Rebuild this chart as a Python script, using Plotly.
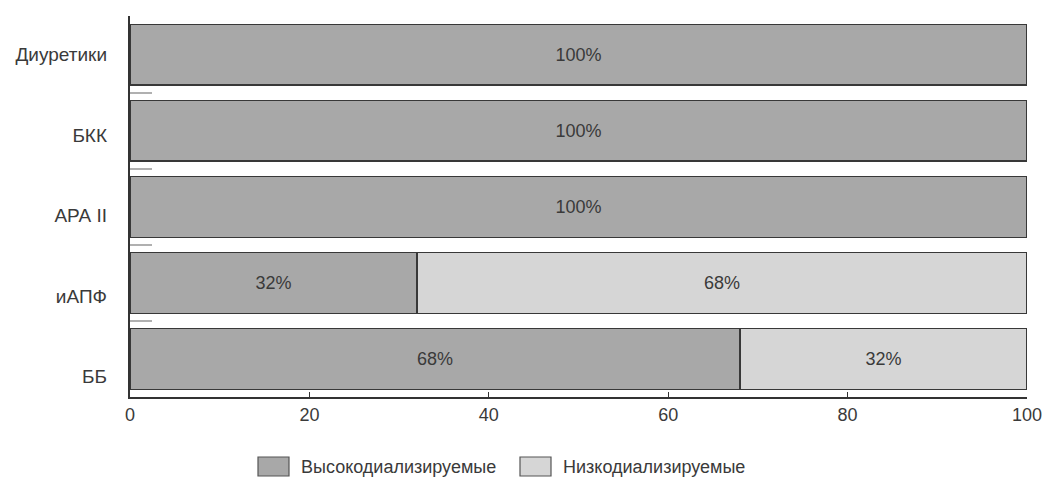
import plotly.graph_objects as go

# Drug classes (bottom to top) and share of high/low dialyzable agents, %
categories = ["ББ", "иАПФ", "АРА II", "БКК", "Диуретики"]
high_dialyzable = [68, 32, 100, 100, 100]
low_dialyzable = [32, 68, 0, 0, 0]
series_names = ["Высокодиализируемые", "Низкодиализируемые"]
x_ticks = [0, 20, 40, 60, 80, 100]

FONT = "Liberation Sans, Arial, sans-serif"
DARK = "#a8a8a8"
LIGHT = "#d6d6d6"
EDGE = "#383838"
TEXT = "#3a3a3a"

W, H = 1046, 478
M = dict(l=130, r=19, t=16, b=81)
PLOT_W = W - M["l"] - M["r"]
PLOT_H = H - M["t"] - M["b"]


def px_x(px):
    """Pixel column -> paper x."""
    return (px - M["l"]) / PLOT_W


def px_y(py):
    """Pixel row -> paper y."""
    return (H - M["b"] - py) / PLOT_H


def pct_labels(values):
    return [f"{v}%" if v > 0 else "" for v in values]


colors = [DARK, LIGHT]
fig = go.Figure()
for name, vals, color in zip(series_names, [high_dialyzable, low_dialyzable], colors):
    fig.add_trace(go.Bar(
        name=name,
        y=categories,
        x=vals,
        orientation="h",
        marker=dict(color=color, line=dict(color=EDGE, width=1.6)),
        text=pct_labels(vals),
        textposition="inside",
        insidetextanchor="middle",
        textfont=dict(family=FONT, size=18, color=TEXT),
        showlegend=False,
    ))

# Invisible trace carrying the category labels on an overlaid axis
fig.add_trace(go.Scatter(
    y=categories,
    x=[0] * len(categories),
    yaxis="y2",
    mode="markers",
    marker=dict(opacity=0),
    showlegend=False,
    hoverinfo="skip",
))

# Legend drawn below the plot: framed swatch followed by the series name
legend_items = [(258, 299), (520, 561)]
shapes, annotations = [], []
for (sx, tx), name, color in zip(legend_items, series_names, colors):
    shapes.append(dict(
        type="rect", xref="paper", yref="paper",
        x0=px_x(sx), x1=px_x(sx + 31), y0=px_y(476), y1=px_y(457),
        fillcolor=color, line=dict(color="#555555", width=1.2),
    ))
    annotations.append(dict(
        xref="paper", yref="paper", x=px_x(tx), y=px_y(467),
        xanchor="left", yanchor="middle", showarrow=False,
        text=name, font=dict(family=FONT, size=18, color=TEXT),
    ))

fig.update_layout(
    width=W,
    height=H,
    margin=M,
    barmode="stack",
    bargap=0.2,
    showlegend=False,
    paper_bgcolor="white",
    plot_bgcolor="white",
    font=dict(family=FONT, size=18, color=TEXT),
    shapes=shapes,
    annotations=annotations,
    xaxis=dict(
        range=[0, 100],
        tickvals=x_ticks,
        ticks="inside",
        ticklen=5,
        tickcolor="#333333",
        showgrid=False,
        zeroline=False,
        showline=True,
        linecolor="#333333",
        linewidth=2,
        automargin=False,
        tickfont=dict(family=FONT, size=18, color=TEXT),
    ),
    yaxis=dict(
        type="category",
        categoryorder="array",
        categoryarray=categories,
        range=[-0.5, 4.51],
        tickson="boundaries",
        ticks="inside",
        ticklen=22,
        tickwidth=2,
        tickcolor="#b0b0b0",
        showticklabels=False,
        showgrid=False,
        zeroline=False,
        showline=True,
        linecolor="#333333",
        linewidth=2,
        automargin=False,
    ),
    yaxis2=dict(
        type="category",
        categoryorder="array",
        categoryarray=categories,
        range=[-0.256, 4.483],
        overlaying="y",
        side="left",
        showline=False,
        showgrid=False,
        zeroline=False,
        ticks="",
        ticklabelstandoff=22,
        automargin=False,
        tickfont=dict(family=FONT, size=19, color=TEXT),
    ),
)

fig.write_html("out.html")
